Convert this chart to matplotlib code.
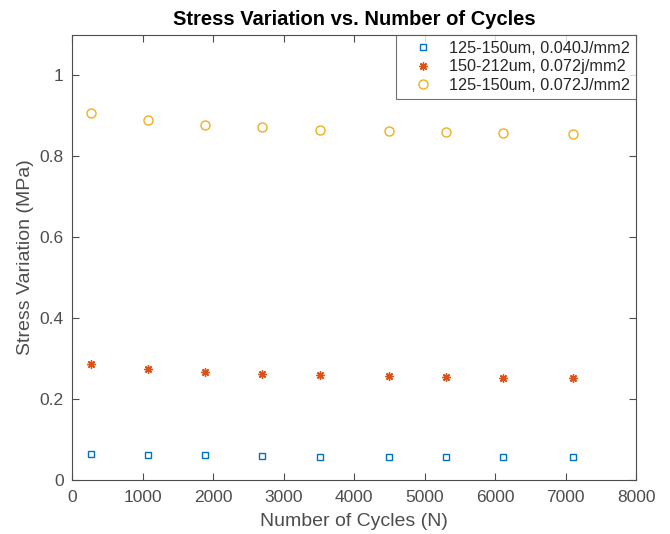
import matplotlib
matplotlib.use("Agg")
import matplotlib.pyplot as plt

plt.rcParams['font.family'] = ['Liberation Sans', 'DejaVu Sans']

# data
cycles = [270, 1080, 1890, 2700, 3520, 4500, 5310, 6120, 7100]
s_040 = [0.065, 0.063, 0.061, 0.060, 0.058, 0.057, 0.057, 0.057, 0.057]
s_212 = [0.287, 0.274, 0.267, 0.262, 0.259, 0.257, 0.255, 0.253, 0.253]
s_072 = [0.906, 0.890, 0.878, 0.872, 0.866, 0.862, 0.859, 0.857, 0.855]
labels = ["125-150um, 0.040J/mm2", "150-212um, 0.072j/mm2", "125-150um, 0.072J/mm2"]

AX = "#4d4d4d"
W, H = 670, 534

fig = plt.figure(figsize=(6.7, 5.34), dpi=100)
# axes box in pixels: x 72..636, y 35..480
ax = fig.add_axes([72 / W, 1 - 480 / H, (636 - 72) / W, (480 - 35) / H])

ax.plot(cycles, s_040, ls="none", marker="s", ms=4.5, mfc="none", mec="#0072BD",
        mew=1.0, label=labels[0])
ax.plot(cycles, s_212, ls="none", marker=(8, 2, 0), ms=6, mec="#D95319",
        mew=1.0, label=labels[1])
ax.plot(cycles, s_072, ls="none", marker="o", ms=6.5, mfc="none", mec="#EDB120",
        mew=1.0, label=labels[2])

ax.set_xlim(0, 8000)
ax.set_ylim(0, 1.1)
ax.set_xticks(range(0, 8001, 1000))
ax.set_yticks([0, 0.2, 0.4, 0.6, 0.8, 1])
ax.set_yticklabels(["0", "0.2", "0.4", "0.6", "0.8", "1"])
ax.tick_params(direction="in", top=True, right=True, length=4.8, width=0.8,
               colors=AX, labelsize=12.5, labelcolor=AX)
ax.tick_params(axis="x", pad=7)
ax.tick_params(axis="y", pad=6)
for sp in ax.spines.values():
    sp.set_color(AX)
    sp.set_linewidth(0.8)

ax.set_xlabel("Number of Cycles (N)", fontsize=14, color=AX, labelpad=6)
ax.set_ylabel("Stress Variation (MPa)", fontsize=14, color=AX, labelpad=4)
ax.set_title("Stress Variation vs. Number of Cycles", fontsize=14.5, fontweight="bold",
             color="black", pad=7)

leg = ax.legend(loc="upper right", fontsize=11.7, frameon=True, fancybox=False,
                borderaxespad=0, handletextpad=0.36, borderpad=0.38, labelspacing=0.2,
                handlelength=2.5)
leg.get_frame().set_edgecolor(AX)
leg.get_frame().set_linewidth(0.8)
for t in leg.get_texts():
    t.set_color("#262626")

fig.savefig("out.png", dpi=100, facecolor="white")
